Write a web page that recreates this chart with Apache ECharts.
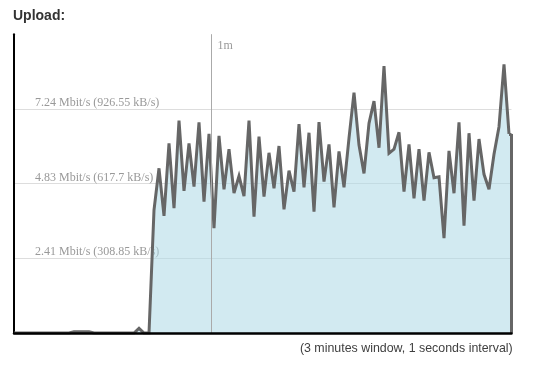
<!DOCTYPE html>
<html><head><meta charset="utf-8">
<script src="https://cdn.jsdelivr.net/npm/echarts@6/dist/echarts.min.js"></script>
<style>html,body{margin:0;padding:0;background:#fff}#c{width:549px;height:365px}</style>
</head><body><div id="c"></div>
<script>
// Upload rate samples, one per second (kB/s)
const uploadKBps = [
  0,0,0,0,0,0,0,0,0,0,
  0,0,5,5,5,5,0,0,0,0,
  0,0,0,0,0,19,0,0,508,681,
  484,784,516,878,588,784,605,871,543,823,
  433,815,594,760,578,649,566,878,481,812,
  564,745,598,773,511,671,584,864,602,828,
  502,872,626,780,519,751,602,806,994,777,
  660,867,959,766,1104,743,760,830,585,780,
  557,760,547,747,642,646,392,753,578,871,
  444,826,547,802,656,594,739,853,1111,823
];
const yMax = 1235.4;
const yInterval = 308.85;
const yTickValues = [308.85, 617.7, 926.55];
const yTickLabels = ['2.41 Mbit/s (308.85 kB/s)', '4.83 Mbit/s (617.7 kB/s)', '7.24 Mbit/s (926.55 kB/s)'];
const timeMarkSeconds = [60];
const timeMarkLabels = ['1m'];
const titleText = 'Upload:';
const footerText = '(3 minutes window, 1 seconds interval)';

const chart = echarts.init(document.getElementById('c'), null, {renderer: 'canvas'});
const n = uploadKBps.length;
const lastX = n - 1;
const xEnd = n - 0.5;
const lastV = uploadKBps[lastX];
const seriesData = uploadKBps.map((v, i) => [i, v]);
const fillColor = 'rgba(173,216,230,0.55)';

const option = {
  animation: false,
  grid: {left: 14, right: 37.5, top: 34.2, bottom: 32, containLabel: false},
  xAxis: {
    type: 'value', min: 0, max: xEnd, z: 10,
    axisLine: {show: true, onZero: false, lineStyle: {color: '#000', width: 2.5}},
    axisTick: {show: false}, axisLabel: {show: false}, splitLine: {show: false}
  },
  yAxis: {
    type: 'value', min: 0, max: yMax, interval: yInterval, z: 0,
    axisLine: {show: true, lineStyle: {color: '#000', width: 2}},
    axisTick: {show: false},
    splitLine: {show: true, lineStyle: {color: ['rgba(0,0,0,0)', '#ddd', '#ddd', '#ddd', 'rgba(0,0,0,0)'], width: 1}},
    axisLabel: {
      inside: true, margin: 21, align: 'left', verticalAlign: 'bottom', lineHeight: 12,
      fontFamily: 'Liberation Serif', fontSize: 12, color: '#999',
      formatter: function (v) {
        for (let k = 0; k < yTickValues.length; k++) {
          if (Math.abs(v - yTickValues[k]) < 0.01) return yTickLabels[k];
        }
        return '';
      }
    }
  },
  series: [
    {
      type: 'line', data: [], z: 1, silent: true,
      markLine: {
        silent: true, symbol: 'none', animation: false,
        label: {show: false},
        lineStyle: {color: '#aaa', width: 1, type: 'solid'},
        data: timeMarkSeconds.map(s => ({xAxis: xEnd - s}))
      }
    },
    {
      type: 'line', data: seriesData, z: 2, showSymbol: false, symbol: 'none',
      lineStyle: {color: '#666', width: 3, join: 'miter', miterLimit: 4},
      areaStyle: {color: fillColor, opacity: 1},
      markArea: {
        silent: true,
        itemStyle: {color: fillColor},
        data: [[{coord: [lastX, 0]}, {coord: [xEnd, lastV]}]]
      },
      markLine: {
        silent: true, symbol: 'none', animation: false,
        label: {show: false},
        lineStyle: {color: '#666', width: 3, type: 'solid'},
        data: [
          [{coord: [lastX, lastV]}, {coord: [xEnd, lastV]}],
          [{coord: [xEnd, lastV]}, {coord: [xEnd, 0]}]
        ]
      }
    }
  ]
};
chart.setOption(option);

const graphics = [
  {type: 'text', x: 13, y: 15.9, style: {text: titleText, font: 'bold 14px "Liberation Sans"', fill: '#333', align: 'left', verticalAlign: 'middle'}},
  {type: 'text', x: 512.7, y: 348.5, style: {text: footerText, font: '12.4px "Liberation Sans"', fill: '#404040', align: 'right', verticalAlign: 'middle'}}
];
timeMarkSeconds.forEach((s, k) => {
  const p = chart.convertToPixel({gridIndex: 0}, [xEnd - s, yMax]);
  graphics.push({type: 'text', x: p[0] + 6, y: p[1] + 12, style: {text: timeMarkLabels[k], font: '12px "Liberation Serif"', fill: '#999', align: 'left', verticalAlign: 'middle'}});
});
chart.setOption({graphic: graphics});
</script></body></html>
